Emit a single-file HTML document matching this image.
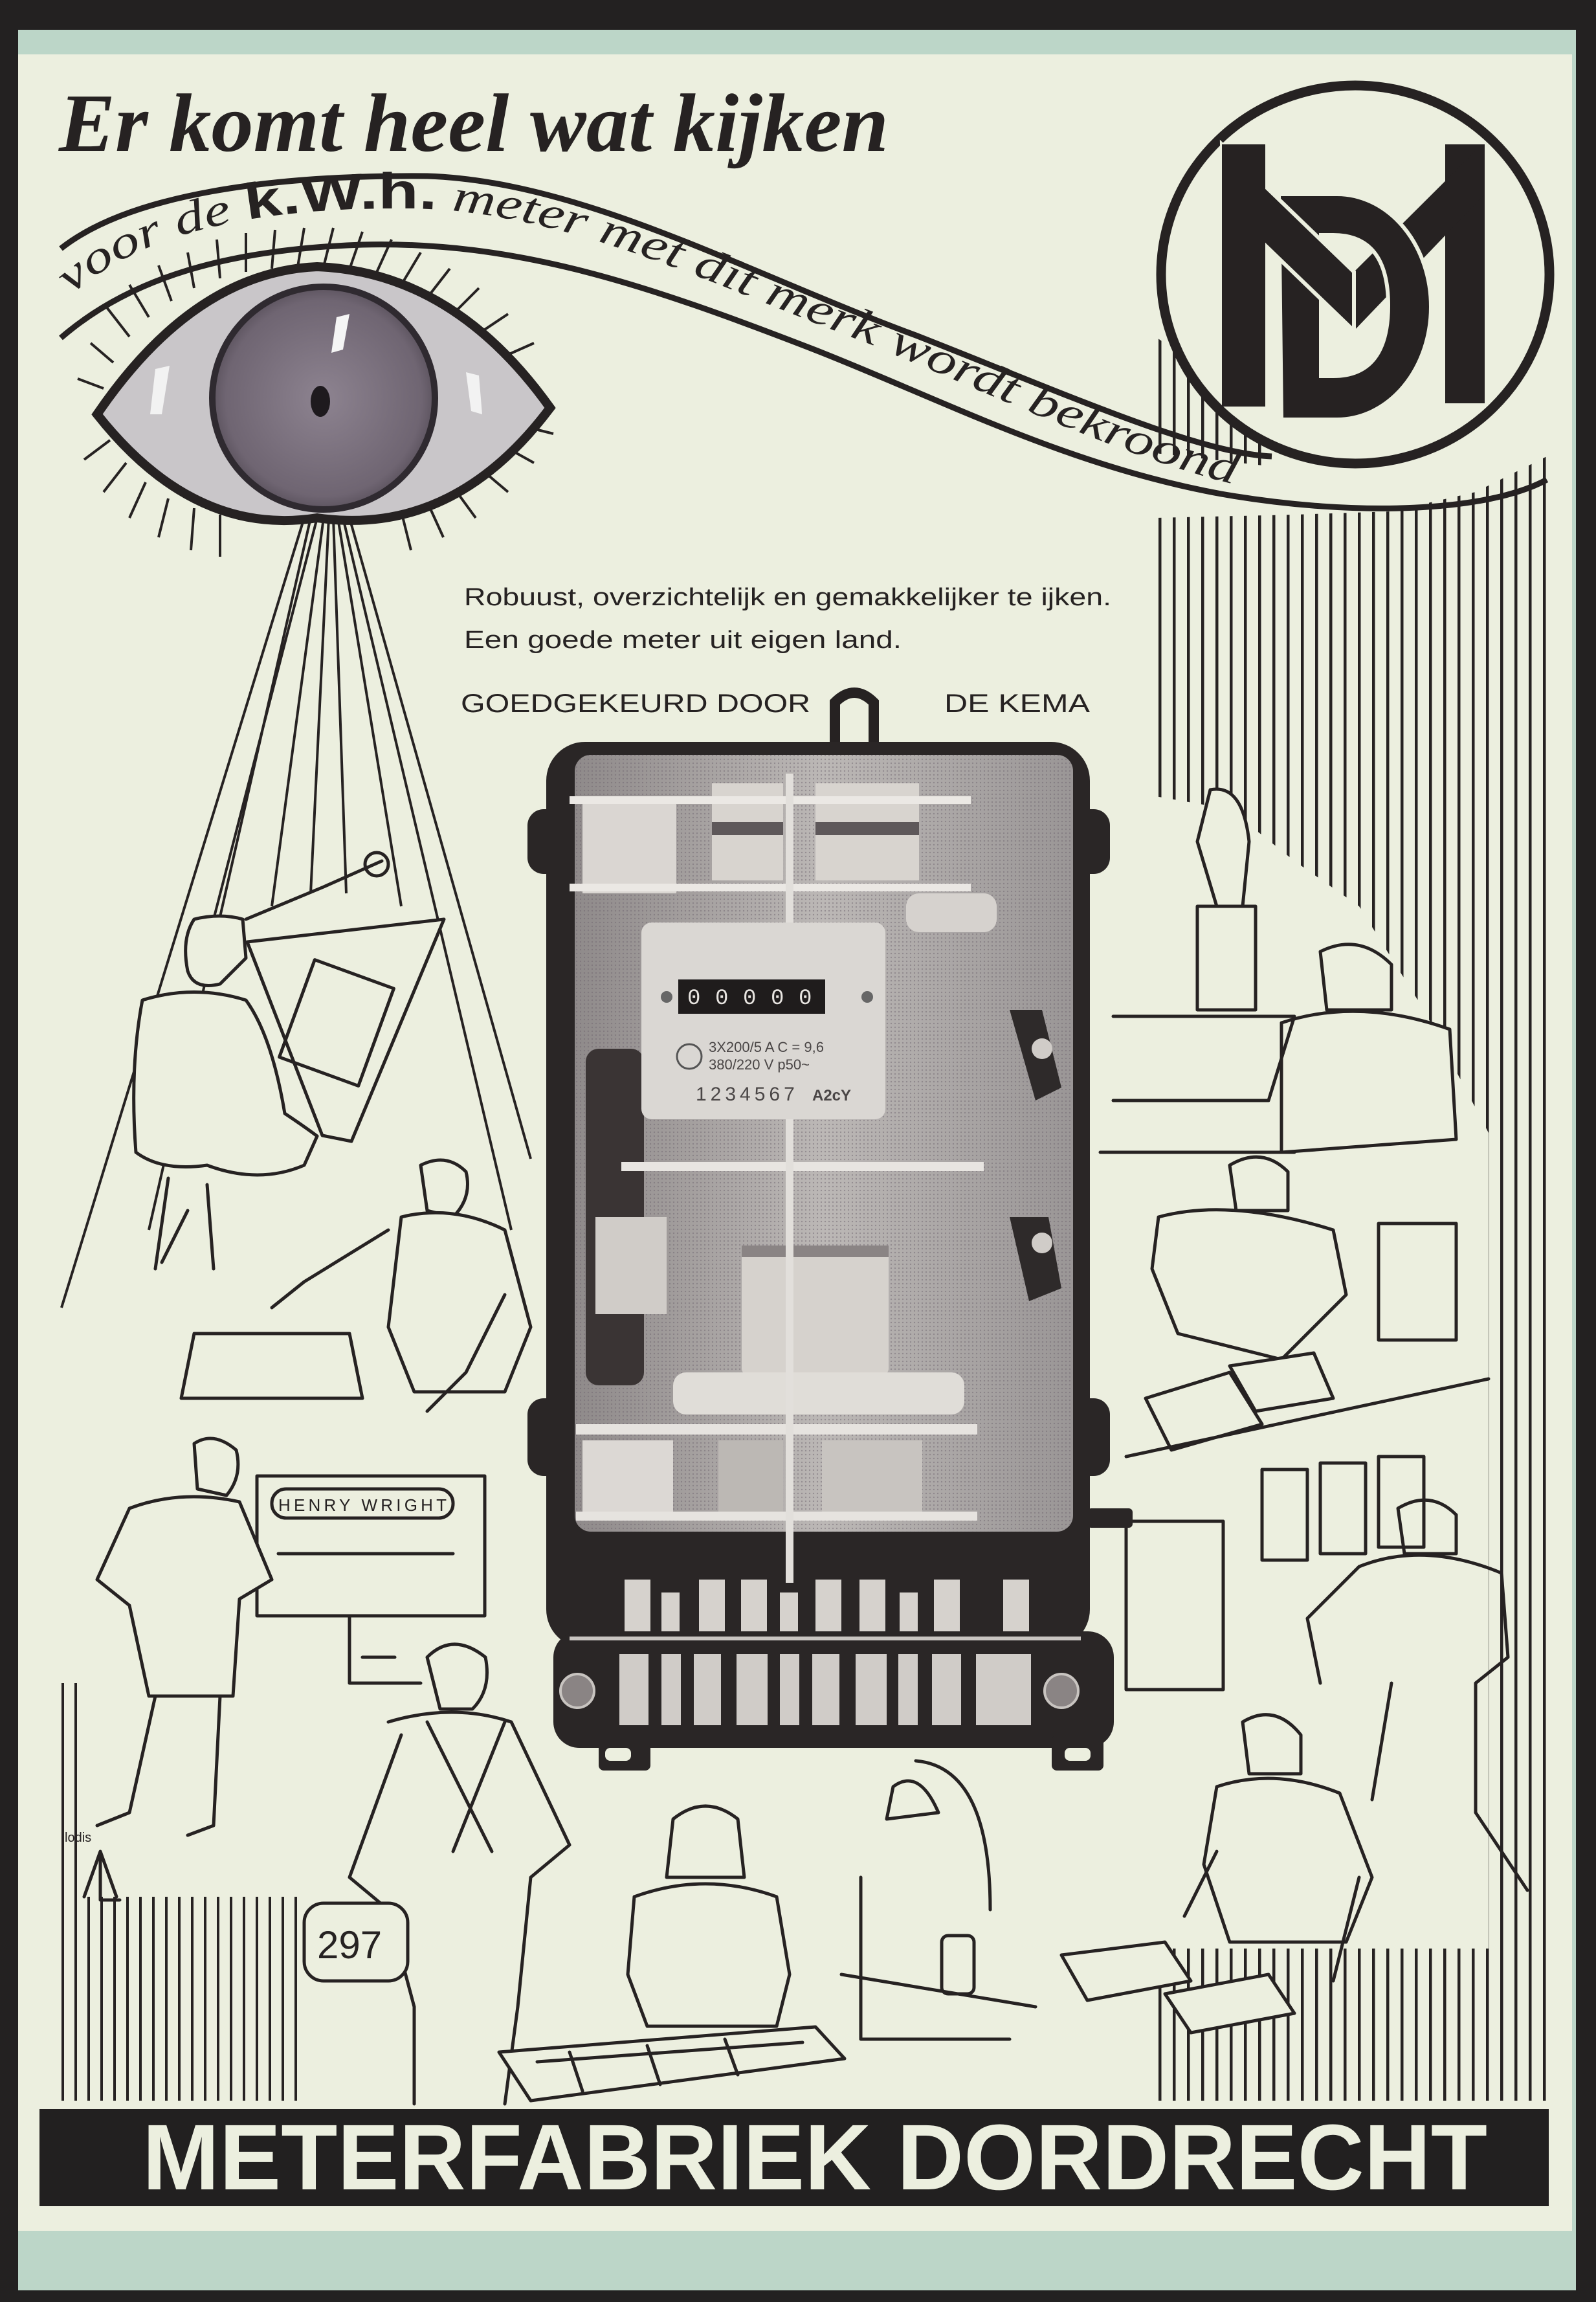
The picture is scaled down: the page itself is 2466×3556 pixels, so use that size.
<!DOCTYPE html>
<html><head><meta charset="utf-8">
<style>
html,body{margin:0;padding:0;background:#232121;}
svg{display:block;}
</style></head>
<body>
<svg xmlns="http://www.w3.org/2000/svg" width="2466" height="3556" viewBox="0 0 2466 3556">
<defs>
<pattern id="st" x="1790" y="0" width="22" height="10" patternUnits="userSpaceOnUse"><rect width="4.5" height="10" fill="#262222"/></pattern>
<pattern id="st2" x="95" y="0" width="20" height="10" patternUnits="userSpaceOnUse"><rect width="4" height="10" fill="#262222"/></pattern>
<pattern id="dots" width="6" height="6" patternUnits="userSpaceOnUse"><circle cx="3" cy="3" r="1.2" fill="#6f6670" opacity="0.5"/></pattern>
<radialGradient id="iris" cx="50%" cy="50%" r="55%"><stop offset="0" stop-color="#8d8390"/><stop offset="0.8" stop-color="#6f6572"/><stop offset="1" stop-color="#4e4650"/></radialGradient>
<linearGradient id="inside" x1="0" y1="0" x2="1" y2="0"><stop offset="0" stop-color="#8f8a8a"/><stop offset="0.5" stop-color="#bcb8b6"/><stop offset="1" stop-color="#9a9696"/></linearGradient>
</defs>

<!-- frame -->
<rect width="2466" height="3556" fill="#232121"/>
<rect x="28" y="46" width="2407" height="3492" fill="#bcd6c8"/>
<rect x="28" y="84" width="2401" height="3362" fill="#ecefdf"/>

<!-- stripes -->
<polygon fill="url(#st)" points="1785,800 2000,795 2150,790 2280,760 2400,700 2400,3245 2300,3245 2300,1750 2200,1560 2100,1400 2000,1330 1900,1250 1785,1230"/>
<polygon fill="url(#st)" points="1785,520 1960,640 1960,720 1785,700"/>
<polygon fill="url(#st)" points="1790,3010 2300,3010 2300,3245 1790,3245"/>
<polygon fill="url(#st2)" points="95,2930 470,2930 470,3245 95,3245"/>
<polygon fill="url(#st2)" points="95,2600 135,2600 135,2930 95,2930"/>

<!-- rays -->
<g stroke="#262222" stroke-width="4" fill="none">
<line x1="470" y1="800" x2="95" y2="2020"/>
<line x1="480" y1="800" x2="230" y2="1900"/>
<line x1="490" y1="800" x2="330" y2="1420"/>
<line x1="500" y1="800" x2="420" y2="1400"/>
<line x1="508" y1="800" x2="480" y2="1380"/>
<line x1="515" y1="800" x2="535" y2="1380"/>
<line x1="522" y1="800" x2="620" y2="1400"/>
<line x1="530" y1="800" x2="790" y2="1900"/>
<line x1="540" y1="800" x2="820" y2="1790"/>
</g>

<!-- heading -->
<text x="91" y="233" font-family="Liberation Serif, serif" font-style="italic" font-weight="bold" font-size="128" fill="#262222" textLength="1282" lengthAdjust="spacingAndGlyphs">Er  komt  heel  wat  kijken</text>

<!-- band -->
<path d="M94,384 C200,300 420,270 660,272 C900,280 1150,420 1415,518 C1650,610 1850,700 1965,705" fill="none" stroke="#262222" stroke-width="9"/>
<path d="M94,522 C200,430 350,385 560,378 C800,372 1000,440 1258,540 C1450,615 1650,720 1887,763 C2100,800 2300,790 2390,741" fill="none" stroke="#262222" stroke-width="9"/>
<path id="tp" d="M110,455 C230,350 420,320 640,322 C880,328 1100,440 1340,530 C1560,620 1760,720 1960,760" fill="none"/>
<text font-family="Liberation Serif, serif" font-style="italic" font-size="70" fill="#262222"><textPath href="#tp" textLength="1900" lengthAdjust="spacingAndGlyphs">voor de <tspan font-family="Liberation Sans, sans-serif" font-style="normal" font-weight="bold" font-size="78">k.W.h.</tspan> meter met dit merk wordt bekroond</textPath></text>

<!-- logo -->
<ellipse cx="2094" cy="424" rx="300" ry="292" fill="#ecefdf" stroke="#262222" stroke-width="15"/>
<g fill="#262222">
<!-- M stems -->
<rect x="1888" y="223" width="67" height="405"/>
<rect x="2233" y="223" width="61" height="400"/>
<!-- right diagonal (behind D) -->
<polygon points="2092,420 2290,223 2294,300 2092,511"/>
</g>
<!-- D -->
<path d="M1976,300 L2066,300 A145,174 0 0 1 2066,648 L1980,648 Z M2041,363 L2060,363 Q2145,363 2145,472 Q2145,581 2060,581 L2041,581 Z" fill="#262222" fill-rule="evenodd" stroke="#ecefdf" stroke-width="6"/>
<!-- left diagonal (in front) -->
<polygon points="1888,223 2092,420 2092,511 1955,379 1890,310" fill="#262222" stroke="#ecefdf" stroke-width="6"/>
<rect x="1888" y="223" width="67" height="405" fill="#262222"/>

<!-- eye -->
<g>
<g stroke="#262222" stroke-width="4">
<line x1="160" y1="600" x2="120" y2="585"/><line x1="175" y1="560" x2="140" y2="530"/><line x1="200" y1="520" x2="165" y2="475"/>
<line x1="230" y1="490" x2="200" y2="440"/><line x1="265" y1="465" x2="245" y2="410"/><line x1="300" y1="445" x2="290" y2="390"/>
<line x1="340" y1="430" x2="335" y2="370"/><line x1="380" y1="420" x2="380" y2="360"/><line x1="420" y1="415" x2="425" y2="355"/>
<line x1="460" y1="412" x2="470" y2="352"/><line x1="500" y1="412" x2="515" y2="352"/><line x1="540" y1="416" x2="560" y2="358"/>
<line x1="580" y1="425" x2="605" y2="370"/><line x1="620" y1="440" x2="650" y2="390"/><line x1="660" y1="460" x2="695" y2="415"/>
<line x1="700" y1="485" x2="740" y2="445"/><line x1="740" y1="515" x2="785" y2="485"/><line x1="780" y1="550" x2="825" y2="530"/>
<line x1="170" y1="680" x2="130" y2="710"/><line x1="195" y1="715" x2="160" y2="760"/><line x1="225" y1="745" x2="200" y2="800"/>
<line x1="260" y1="770" x2="245" y2="830"/><line x1="300" y1="785" x2="295" y2="850"/><line x1="340" y1="795" x2="340" y2="860"/>
<line x1="620" y1="790" x2="635" y2="850"/><line x1="660" y1="775" x2="685" y2="830"/><line x1="700" y1="752" x2="735" y2="800"/>
<line x1="740" y1="722" x2="785" y2="760"/><line x1="780" y1="690" x2="825" y2="715"/><line x1="815" y1="660" x2="855" y2="670"/>
</g>
<path d="M150,640 Q300,420 490,412 Q700,420 850,630 Q700,830 490,800 Q300,830 150,640 Z" fill="#c9c6c9" stroke="#262222" stroke-width="14"/>
<circle cx="500" cy="615" r="172" fill="url(#iris)" stroke="#2f2a30" stroke-width="10"/>
<ellipse cx="495" cy="620" rx="15" ry="24" fill="#1e1a1e"/>
<path d="M520,490 L540,485 L530,540 L512,545 Z" fill="#f5f5f5"/>
<path d="M240,570 L262,565 L250,640 L232,640 Z" fill="#f2f2f2"/>
<path d="M720,575 L740,580 L745,640 L728,635 Z" fill="#f2f2f2"/>
</g>

<!-- intro text -->
<g font-family="Liberation Sans, sans-serif" fill="#262222">
<text x="717" y="935" font-size="38" textLength="1000" lengthAdjust="spacingAndGlyphs">Robuust, overzichtelijk en gemakkelijker te ijken.</text>
<text x="717" y="1001" font-size="38" textLength="676" lengthAdjust="spacingAndGlyphs">Een goede meter uit eigen land.</text>
<text x="712" y="1100" font-size="40" textLength="540" lengthAdjust="spacingAndGlyphs">GOEDGEKEURD DOOR</text>
<text x="1459" y="1100" font-size="40" textLength="225" lengthAdjust="spacingAndGlyphs">DE KEMA</text>
</g>

<!-- figures (sketchy) -->
<g stroke="#262222" stroke-width="5" fill="#ecefdf" stroke-linejoin="round" stroke-linecap="round">
<polygon points="382,1455 686,1420 543,1763 498,1754"/>
<rect x="455" y="1500" width="130" height="160" fill="none" transform="rotate(20 520 1580)"/>
<path d="M380,1420 L500,1370 L590,1330" fill="none"/>
<circle cx="582" cy="1335" r="18" fill="none"/>
<path d="M300,1420 Q280,1450 290,1500 Q300,1530 340,1520 L380,1480 L375,1420 Q340,1410 300,1420 Z"/>
<path d="M220,1545 Q300,1520 380,1545 Q420,1600 440,1720 Q470,1740 490,1755 L470,1800 Q400,1830 320,1800 Q250,1810 210,1780 Q200,1650 220,1545 Z"/>
<path d="M260,1820 L240,1960 M320,1830 L330,1960 M290,1870 L250,1950" fill="none"/>
<path d="M650,1800 Q690,1780 720,1810 Q730,1850 700,1880 L660,1870 Z"/>
<path d="M620,1880 Q700,1860 780,1900 L820,2050 L780,2150 L640,2150 L600,2050 Z"/>
<path d="M600,1900 L470,1980 L420,2020 M780,2000 L720,2120 L660,2180" fill="none"/>
<path d="M300,2060 L540,2060 L560,2160 L280,2160 Z" fill="none"/>
<rect x="397" y="2280" width="352" height="216"/>
<rect x="420" y="2300" width="280" height="45" rx="22" fill="none"/>
<text x="430" y="2334" font-family="Liberation Sans, sans-serif" font-size="26" fill="#262222" stroke="none" textLength="260">HENRY WRIGHT</text>
<line x1="430" y1="2400" x2="700" y2="2400"/>
<path d="M540,2496 L540,2600 L650,2600 M560,2560 L610,2560" fill="none"/>
<path d="M300,2230 Q330,2210 365,2240 Q375,2280 350,2310 L305,2300 Z"/>
<path d="M200,2330 Q280,2300 370,2320 L420,2440 L370,2470 L360,2620 L230,2620 L200,2480 L150,2440 Z"/>
<path d="M240,2620 L200,2800 L150,2820 M340,2620 L330,2820 L290,2835" fill="none"/>
<path d="M660,2560 Q700,2520 750,2560 Q760,2610 730,2640 L680,2640 Z"/>
<path d="M600,2660 Q700,2630 790,2660 L880,2850 L820,2900 L800,3100 L780,3250 M620,2680 L540,2900 L600,2950 L640,3100 L640,3250" fill="none"/>
<path d="M660,2660 L760,2860 M780,2660 L700,2860" fill="none"/>
<rect x="470" y="2940" width="160" height="120" rx="30"/>
<text x="490" y="3025" font-family="Liberation Sans, sans-serif" font-size="60" fill="#262222" stroke="none">297</text>
<path d="M1040,2810 Q1090,2770 1140,2810 L1150,2900 L1030,2900 Z"/>
<path d="M980,2930 Q1090,2890 1200,2930 L1220,3050 L1200,3130 L1000,3130 L970,3050 Z"/>
<polygon points="771,3170 1260,3131 1305,3180 820,3245"/>
<path d="M830,3185 L1240,3155 M880,3170 L900,3230 M1000,3160 L1020,3220 M1120,3150 L1140,3205" fill="none"/>
<path d="M1380,2760 Q1420,2730 1450,2800 L1370,2810 Z M1415,2720 Q1530,2730 1530,2950" fill="none"/>
<rect x="1455" y="2990" width="50" height="90" rx="10"/>
<path d="M1330,2900 L1330,3150 L1560,3150 M1300,3050 L1600,3100" fill="none"/>
<polygon points="1640,3020 1800,3000 1840,3060 1680,3090"/>
<polygon points="1800,3080 1960,3050 2000,3110 1840,3140"/>
<path d="M1920,2660 Q1970,2630 2010,2680 L2010,2740 L1930,2740 Z"/>
<path d="M1880,2760 Q1970,2730 2070,2770 L2120,2900 L2080,3000 L1900,3000 L1860,2880 Z"/>
<path d="M1880,2860 L1830,2960 M2100,2900 L2060,3060" fill="none"/>
<path d="M2160,2330 Q2210,2300 2250,2340 L2250,2400 L2170,2400 Z"/>
<path d="M2100,2420 Q2200,2380 2320,2430 L2330,2560 L2280,2600 L2280,2800 L2360,2920 M2100,2420 L2020,2500 L2040,2600 M2150,2600 L2120,2780" fill="none"/>
<rect x="1740" y="2350" width="150" height="260" fill="none"/>
<rect x="1950" y="2270" width="70" height="140" fill="none"/>
<rect x="2040" y="2260" width="70" height="140" fill="none"/>
<rect x="2130" y="2250" width="70" height="140" fill="none"/>
<path d="M1900,1800 Q1950,1770 1990,1810 L1990,1870 L1910,1870 Z"/>
<path d="M1790,1880 Q1900,1850 2060,1900 L2080,2000 L1980,2100 L1820,2060 L1780,1960 Z"/>
<polygon points="1770,2160 1900,2120 1950,2200 1810,2240"/>
<polygon points="1900,2110 2030,2090 2060,2160 1940,2180"/>
<rect x="2130" y="1890" width="120" height="180" fill="none"/>
<path d="M1740,2250 L2300,2130" fill="none"/>
<path d="M2040,1470 Q2100,1440 2150,1490 L2150,1560 L2050,1560 Z"/>
<path d="M1980,1580 Q2100,1540 2240,1590 L2250,1760 L1980,1780 Z"/>
<path d="M1870,1220 Q1920,1210 1930,1300 L1920,1400 L1880,1400 L1850,1300 Z"/>
<rect x="1850" y="1400" width="90" height="160"/>
<path d="M1720,1570 L2000,1570 L1960,1700 L1720,1700 M1700,1780 L2000,1780" fill="none"/>
<path d="M130,2930 L155,2860 L180,2930 M155,2860 L155,2935 M155,2935 L185,2935" fill="none"/>
</g>
<text x="100" y="2845" font-family="Liberation Sans, sans-serif" font-size="20" fill="#262222">lodis</text>

<!-- METER -->
<g>
<path d="M1290,1146 L1290,1085 Q1320,1055 1350,1085 L1350,1146" fill="none" stroke="#262222" stroke-width="16"/>
<rect x="815" y="1250" width="60" height="100" rx="25" fill="#2a2626"/>
<rect x="815" y="2160" width="60" height="120" rx="25" fill="#2a2626"/>
<rect x="1655" y="1250" width="60" height="100" rx="25" fill="#2a2626"/>
<rect x="1655" y="2160" width="60" height="120" rx="25" fill="#2a2626"/>
<rect x="1680" y="2330" width="70" height="30" rx="6" fill="#2a2626"/>
<rect x="844" y="1146" width="840" height="1400" rx="60" fill="#2a2626"/>
<rect x="855" y="2520" width="866" height="180" rx="40" fill="#2a2626"/>
<rect x="925" y="2680" width="80" height="55" rx="8" fill="#2a2626"/>
<rect x="1625" y="2680" width="80" height="55" rx="8" fill="#2a2626"/>
<rect x="888" y="1166" width="770" height="1200" rx="25" fill="url(#inside)"/>
<rect x="888" y="1166" width="770" height="1200" rx="25" fill="url(#dots)"/>
<rect x="1100" y="1210" width="110" height="150" fill="#d8d4cf"/>
<rect x="1260" y="1210" width="160" height="150" fill="#d8d4cf"/>
<rect x="1100" y="1270" width="110" height="20" fill="#5e585a"/>
<rect x="1260" y="1270" width="160" height="20" fill="#5e585a"/>
<rect x="900" y="1240" width="145" height="140" fill="#dad6d2"/>
<rect x="880" y="1230" width="620" height="12" fill="#ebe8e4"/>
<rect x="880" y="1365" width="620" height="12" fill="#ebe8e4"/>
<rect x="1400" y="1380" width="140" height="60" rx="20" fill="#d6d2ce"/>
<rect x="905" y="1620" width="90" height="520" rx="20" fill="#3a3434"/>
<rect x="920" y="1880" width="110" height="150" fill="#d0ccc8"/>
<rect x="960" y="1795" width="560" height="14" fill="#e8e5e1"/>
<rect x="890" y="2200" width="620" height="16" fill="#e6e3df"/>
<rect x="890" y="2335" width="620" height="14" fill="#e6e3df"/>
<rect x="1146" y="1924" width="227" height="200" rx="10" fill="#d6d2cd"/>
<rect x="1146" y="1924" width="227" height="18" fill="#8a8484"/>
<rect x="1040" y="2120" width="450" height="65" rx="20" fill="#e0ddd8"/>
<rect x="1110" y="2225" width="100" height="110" fill="#bcb8b4"/>
<rect x="1270" y="2225" width="155" height="110" fill="#c8c4c0"/>
<rect x="900" y="2225" width="140" height="110" fill="#dcd8d4"/>
<path d="M1560,1560 L1610,1560 L1640,1680 L1600,1700 Z" fill="#2e2a2a"/>
<path d="M1560,1880 L1620,1880 L1640,1990 L1590,2010 Z" fill="#2e2a2a"/>
<circle cx="1610" cy="1620" r="16" fill="#d0ccc8"/>
<circle cx="1610" cy="1920" r="16" fill="#d0ccc8"/>
<rect x="1214" y="1195" width="12" height="1250" fill="#e2dfdb"/>
<rect x="991" y="1425" width="377" height="304" rx="16" fill="#dad7d3"/>
<rect x="1048" y="1513" width="227" height="53" fill="#1f1c1c"/>
<g fill="#e8e5e1" font-family="Liberation Mono, monospace" font-size="34">
<text x="1062" y="1551">0</text><text x="1105" y="1551">0</text><text x="1148" y="1551">0</text><text x="1191" y="1551">0</text><text x="1234" y="1551">0</text>
</g>
<circle cx="1030" cy="1540" r="9" fill="#666"/>
<circle cx="1340" cy="1540" r="9" fill="#666"/>
<circle cx="1065" cy="1632" r="19" fill="none" stroke="#555" stroke-width="3"/>
<g fill="#4a4646" font-family="Liberation Sans, sans-serif">
<text x="1095" y="1625" font-size="22">3X200/5 A  C = 9,6</text>
<text x="1095" y="1652" font-size="22">380/220 V  p50~</text>
<text x="1075" y="1700" font-size="30" letter-spacing="6">1234567</text>
<text x="1255" y="1700" font-size="24" font-weight="bold">A2cY</text>
</g>
<g fill="#d6d2cd">
<rect x="965" y="2440" width="40" height="80"/><rect x="1022" y="2460" width="28" height="60"/>
<rect x="1080" y="2440" width="40" height="80"/><rect x="1145" y="2440" width="40" height="80"/>
<rect x="1205" y="2460" width="28" height="60"/><rect x="1260" y="2440" width="40" height="80"/>
<rect x="1328" y="2440" width="40" height="80"/><rect x="1390" y="2460" width="28" height="60"/>
<rect x="1443" y="2440" width="40" height="80"/><rect x="1550" y="2440" width="40" height="80"/>
</g>
<rect x="880" y="2528" width="790" height="6" fill="#c8c4c0"/>
<g fill="#d0ccc8">
<rect x="957" y="2555" width="45" height="110"/><rect x="1022" y="2555" width="30" height="110"/>
<rect x="1072" y="2555" width="42" height="110"/><rect x="1138" y="2555" width="48" height="110"/>
<rect x="1205" y="2555" width="30" height="110"/><rect x="1255" y="2555" width="42" height="110"/>
<rect x="1322" y="2555" width="48" height="110"/><rect x="1388" y="2555" width="30" height="110"/>
<rect x="1440" y="2555" width="45" height="110"/><rect x="1508" y="2555" width="85" height="110"/>
</g>
<circle cx="892" cy="2612" r="26" fill="#8a8484" stroke="#c8c4c0" stroke-width="4"/>
<circle cx="1640" cy="2612" r="26" fill="#8a8484" stroke="#c8c4c0" stroke-width="4"/>
<rect x="935" y="2700" width="40" height="20" rx="8" fill="#ecefdf"/>
<rect x="1645" y="2700" width="40" height="20" rx="8" fill="#ecefdf"/>
</g>

<!-- banner -->
<rect x="61" y="3258" width="2332" height="150" fill="#222020"/>
<text x="220" y="3382" font-family="Liberation Sans, sans-serif" font-weight="bold" font-size="144" fill="#ecefdf" textLength="2078" lengthAdjust="spacingAndGlyphs">METERFABRIEK DORDRECHT</text>
</svg>
</body></html>
